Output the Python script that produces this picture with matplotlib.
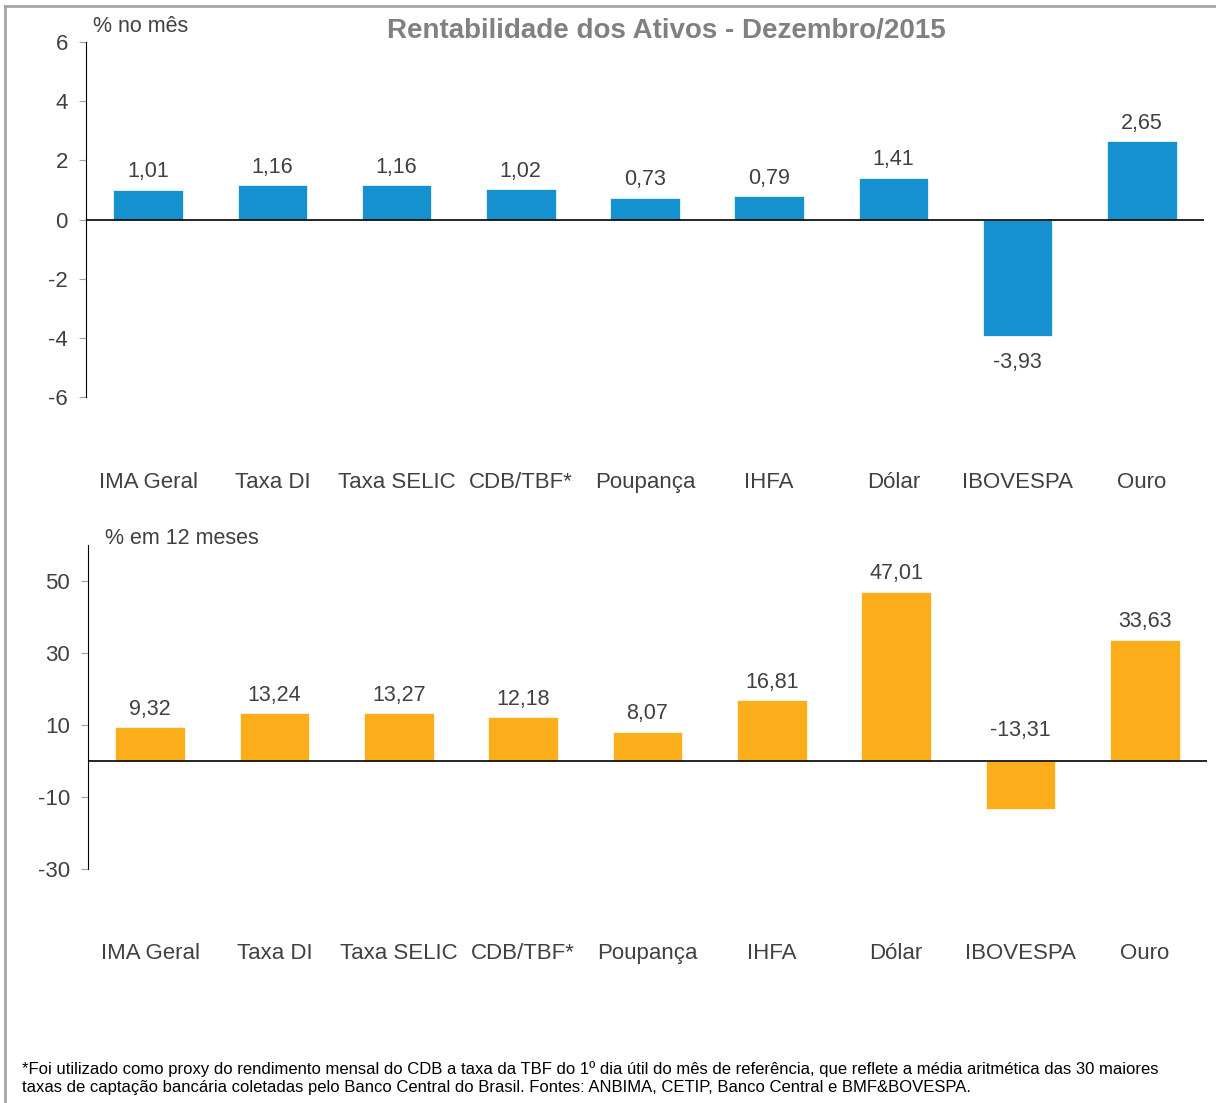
import matplotlib.pyplot as plt
from matplotlib.lines import Line2D

plt.rcParams['font.family'] = ['Liberation Sans', 'DejaVu Sans']

categories = ["IMA Geral", "Taxa DI", "Taxa SELIC", "CDB/TBF*", "Poupança",
              "IHFA", "Dólar", "IBOVESPA", "Ouro"]
ret_mes = [1.01, 1.16, 1.16, 1.02, 0.73, 0.79, 1.41, -3.93, 2.65]
ret_12m = [9.32, 13.24, 13.27, 12.18, 8.07, 16.81, 47.01, -13.31, 33.63]

title = "Rentabilidade dos Ativos - Dezembro/2015"
label_mes = "% no mês"
label_12m = "% em 12 meses"
footnote = ("*Foi utilizado como proxy do rendimento mensal do CDB a taxa da TBF do 1º dia útil do mês de referência, "
            "que reflete a média aritmética das 30 maiores\n"
            "taxas de captação bancária coletadas pelo Banco Central do Brasil. Fontes: ANBIMA, CETIP, Banco Central e BMF&BOVESPA.")

txt = "#404040"
fig = plt.figure(figsize=(12.16, 11.03), dpi=100)

# gray frame (left + top)
fig.add_artist(Line2D([5 / 1216, 5 / 1216], [0, 1 - 6 / 1103], color="#a6a6a6", lw=2,
                      transform=fig.transFigure))
fig.add_artist(Line2D([5 / 1216, 1], [1 - 6 / 1103, 1 - 6 / 1103], color="#a6a6a6", lw=2,
                      transform=fig.transFigure))


def draw(ax, vals, color, ylim, ticks, lab_y, neg_above=False):
    x = range(len(vals))
    ax.bar(x, vals, width=0.56, color=color, edgecolor="#ffffff", linewidth=0.5, zorder=2)
    ax.axhline(0, color="black", lw=1.2, zorder=3)
    ax.set_xlim(-0.5, len(vals) - 0.5)
    ax.set_ylim(*ylim)
    ax.set_yticks(ticks)
    ax.set_yticklabels([str(t) for t in ticks])
    ax.tick_params(axis="y", length=5, color="#a0a0a0", labelsize=16, labelcolor=txt, pad=8)
    ax.set_xticks([])
    for s in ["top", "right", "bottom"]:
        ax.spines[s].set_visible(False)
    ax.spines["left"].set_color("black")
    for i, v in enumerate(vals):
        s = f"{v:.2f}".replace(".", ",")
        if v >= 0:
            ax.annotate(s, (i, v), xytext=(0, 13), textcoords="offset points",
                        ha="center", va="center", fontsize=15.5, color=txt)
        elif neg_above:
            ax.annotate(s, (i, 0), xytext=(0, 22), textcoords="offset points",
                        ha="center", va="center", fontsize=15.5, color=txt)
        else:
            ax.annotate(s, (i, v), xytext=(0, -19), textcoords="offset points",
                        ha="center", va="center", fontsize=15.5, color=txt)
    for i, c in enumerate(categories):
        ax.text(i, lab_y, c, transform=ax.get_xaxis_transform(), ha="center", va="center",
                fontsize=16, color=txt)


ax1 = fig.add_axes([86 / 1216, 1 - 397 / 1103, (1204 - 86) / 1216, 355 / 1103])
draw(ax1, ret_mes, "#1591d0", (-6, 6), [-6, -4, -2, 0, 2, 4, 6], -0.24)

ax2 = fig.add_axes([88 / 1216, 1 - 869 / 1103, (1207 - 88) / 1216, 324 / 1103])
draw(ax2, ret_12m, "#fcae1a", (-30, 60), [-30, -10, 10, 30, 50], -0.262, neg_above=True)

fig.text(141 / 1216, 1 - 27 / 1103, label_mes, ha="center", va="center", fontsize=15.5, color=txt)
fig.text(182 / 1216, 1 - 539 / 1103, label_12m, ha="center", va="center", fontsize=15.5, color=txt)
fig.text(666 / 1216, 1 - 31 / 1103, title, ha="center", va="center", fontsize=20,
         fontweight="bold", color="#808080")
fig.text(22 / 1216, 1 - 1078 / 1103, footnote, ha="left", va="center", fontsize=12,
         color="black", linespacing=1.25,
         family=["Liberation Sans Narrow", "Liberation Sans", "DejaVu Sans"])

plt.savefig("out.png", dpi=100)
